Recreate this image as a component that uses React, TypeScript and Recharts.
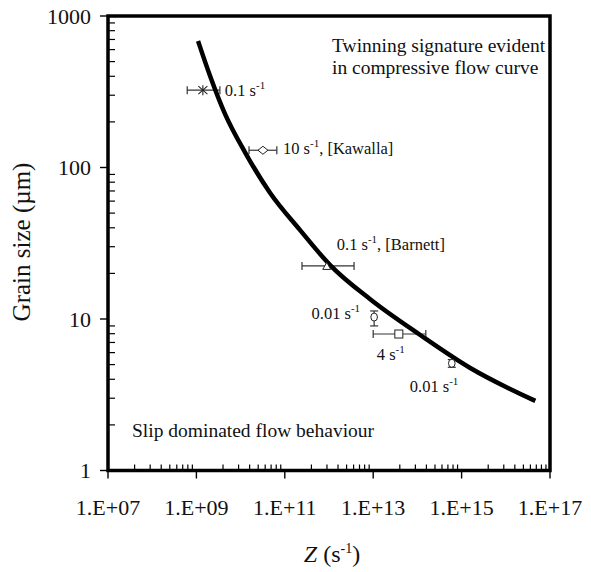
import React from 'react';
import { ComposedChart, Line, Scatter, XAxis, YAxis, ErrorBar, ReferenceArea } from 'recharts';

// fitted curve
const curveZ = [1.09e9, 2.04e9, 4.46e9, 1.26e10, 4.66e10, 2.22e11, 1.06e12, 8.55e12, 1.16e14, 1.57e15, 4.65e16];
const curveD = [684, 402, 225, 126, 67.9, 38.6, 22.7, 13.5, 7.84, 4.75, 2.88];

// measured points
const pointMarks = ['asterisk', 'diamond', 'triangle', 'circle', 'square', 'circle'];
const pointZ = [1.4e9, 3.2e10, 8.9e11, 1.05e13, 3.8e13, 6.0e14];
const pointD = [324, 130, 22.4, 10.3, 7.96, 5.1];
const zErrLow = [7.8e8, 1.65e10, 6.45e11, 0, 2.8e13, 0];
const zErrHigh = [2.0e9, 3.4e10, 2.8e12, 0, 1.17e14, 0];
const dErrLow = [0, 0, 0, 1.3, 0, 0.3];
const dErrHigh = [0, 0, 0, 1.0, 0, 0.3];
const pointRates = ['0.1', '10', '0.1', '0.01', '4', '0.01'];
const pointRefs = ['', ', [Kawalla]', ', [Barnett]', '', '', ''];

const xMajorTicks = [1e7, 1e9, 1e11, 1e13, 1e15, 1e17];
const yMajorTicks = [1, 10, 100, 1000];

// label placement relative to marker
const labelPos = [
  { dx: 22, dy: 6, anchor: 'start' },
  { dx: 20, dy: 4, anchor: 'start' },
  { dx: 10, dy: -16, anchor: 'start' },
  { dx: -14, dy: 2, anchor: 'end' },
  { dx: -22, dy: 26, anchor: 'start' },
  { dx: -42, dy: 29, anchor: 'start' },
];

const FONT = '"Liberation Serif", "Times New Roman", "DejaVu Serif", serif';
const INK = '#111';
const serif = { fontFamily: FONT };

// excel-style minor ticks on a base-100 axis: k^2 within each step
const xMinorTicks = xMajorTicks.slice(0, -1).flatMap((b) => [2, 3, 4, 5, 6, 7, 8, 9].map((k) => b * k * k));
const yMinorTicks = yMajorTicks.slice(0, -1).flatMap((b) => [2, 3, 4, 5, 6, 7, 8, 9].map((k) => b * k));

const curve = curveZ.map((z, i) => ({ z, d: curveD[i] }));
const points = pointZ.map((z, i) => ({
  z,
  d: pointD[i],
  zErr: [zErrLow[i], zErrHigh[i]],
  dErr: [dErrLow[i], dErrHigh[i]],
}));

const expLabel = (v: number) => `1.E+${String(Math.round(Math.log10(v))).padStart(2, '0')}`;

function XTick(props: any) {
  const { x, y, payload } = props;
  if (!xMajorTicks.includes(payload.value)) {
    return <line x1={x} x2={x} y1={y} y2={y - 6} stroke="#000" strokeWidth={1.2} />;
  }
  return (
    <g>
      <line x1={x} x2={x} y1={y} y2={y + 8} stroke="#000" strokeWidth={1.4} />
      <text x={x} y={y + 44.5} textAnchor="middle" fontSize={22} style={serif} fill={INK}>
        {expLabel(payload.value)}
      </text>
    </g>
  );
}

function YTick(props: any) {
  const { x, y, payload } = props;
  if (!yMajorTicks.includes(payload.value)) {
    return <line x1={x} x2={x + 7} y1={y} y2={y} stroke="#000" strokeWidth={1.2} />;
  }
  return (
    <g>
      <line x1={x - 8} x2={x} y1={y} y2={y} stroke="#000" strokeWidth={1.4} />
      <text x={x - 17} y={y + 7.7} textAnchor="end" fontSize={22} style={serif} fill={INK}>
        {payload.value}
      </text>
    </g>
  );
}

function Marker({ kind, cx, cy }: { kind: string; cx: number; cy: number }) {
  const s = { fill: '#fff', stroke: '#222', strokeWidth: 1 };
  switch (kind) {
    case 'asterisk':
      return (
        <g stroke="#222" strokeWidth={1.1}>
          <line x1={cx} x2={cx} y1={cy - 5} y2={cy + 5} />
          <line x1={cx - 4.5} x2={cx + 4.5} y1={cy - 4} y2={cy + 4} />
          <line x1={cx - 4.5} x2={cx + 4.5} y1={cy + 4} y2={cy - 4} />
        </g>
      );
    case 'diamond':
      return <path d={`M${cx - 5},${cy} L${cx},${cy - 4} L${cx + 5},${cy} L${cx},${cy + 4} Z`} {...s} />;
    case 'triangle':
      return <path d={`M${cx - 4},${cy + 3.5} L${cx},${cy - 3.5} L${cx + 4},${cy + 3.5} Z`} {...s} />;
    case 'square':
      return <rect x={cx - 4} y={cy - 4} width={8} height={8} {...s} />;
    default:
      return <ellipse cx={cx} cy={cy} rx={3.3} ry={4} {...s} />;
  }
}

function makeShape(i: number) {
  return (props: any) => {
    const { cx, cy } = props;
    const p = labelPos[i];
    return (
      <g>
        <Marker kind={pointMarks[i]} cx={cx} cy={cy} />
        <text x={cx + p.dx} y={cy + p.dy} textAnchor={p.anchor} fontSize={16.5} style={serif} fill={INK}>
          {pointRates[i]} s
          <tspan dy={-7} fontSize={11}>
            -1
          </tspan>
          <tspan dy={7}>{pointRefs[i]}</tspan>
        </text>
      </g>
    );
  };
}

export default function App() {
  return (
    <div style={{ position: 'absolute', left: 0, top: 0, width: 591, height: 572, background: '#fff' }}>
      <ComposedChart width={591} height={572} margin={{ top: 16, right: 41, bottom: 41.5, left: 0 }}>
        <XAxis
          dataKey="z"
          type="number"
          scale="log"
          domain={[1e7, 1e17]}
          allowDataOverflow
          ticks={[...xMajorTicks, ...xMinorTicks]}
          interval={0}
          tick={<XTick />}
          tickLine={false}
          axisLine={false}
          tickSize={0}
          tickMargin={0}
          height={60}
        />
        <YAxis
          dataKey="d"
          type="number"
          scale="log"
          domain={[1, 1000]}
          allowDataOverflow
          ticks={[...yMajorTicks, ...yMinorTicks]}
          interval={0}
          tick={<YTick />}
          tickLine={false}
          axisLine={false}
          tickSize={0}
          tickMargin={0}
          width={108}
        />
        {points.map((p, i) => (
          <Scatter key={i} data={[p]} dataKey="d" shape={makeShape(i)} isAnimationActive={false}>
            {zErrHigh[i] > 0 && (
              <ErrorBar dataKey="zErr" direction="x" width={4} stroke="#333" strokeWidth={1.2} isAnimationActive={false} />
            )}
            {dErrHigh[i] > 0 && (
              <ErrorBar dataKey="dErr" direction="y" width={4} stroke="#333" strokeWidth={1.2} isAnimationActive={false} />
            )}
          </Scatter>
        ))}
        <Line
          data={curve}
          dataKey="d"
          type="monotone"
          stroke="#000"
          strokeWidth={4.5}
          dot={false}
          activeDot={false}
          isAnimationActive={false}
        />
        <ReferenceArea
          x1={1e7}
          x2={1e17}
          y1={1}
          y2={1000}
          fill="none"
          stroke="#000"
          strokeWidth={3.5}
          ifOverflow="visible"
        />
      </ComposedChart>
      <svg
        width={591}
        height={572}
        style={{ position: 'absolute', left: 0, top: 0, pointerEvents: 'none', fontFamily: FONT }}
        fill={INK}
      >
        <text x={332} y={52} fontSize={19.5}>Twinning signature evident</text>
        <text x={332} y={74} fontSize={19.5}>in compressive flow curve</text>
        <text x={132} y={437} fontSize={19.5}>Slip dominated flow behaviour</text>
        <text x={332} y={562} fontSize={24} textAnchor="middle">
          <tspan fontStyle="italic">Z</tspan> (s
          <tspan dy={-9} fontSize={14}>
            -1
          </tspan>
          <tspan dy={9}>)</tspan>
        </text>
        <text x={0} y={0} fontSize={25} textAnchor="middle" transform="translate(30,242) rotate(-90)">
          Grain size (µm)
        </text>
      </svg>
    </div>
  );
}
